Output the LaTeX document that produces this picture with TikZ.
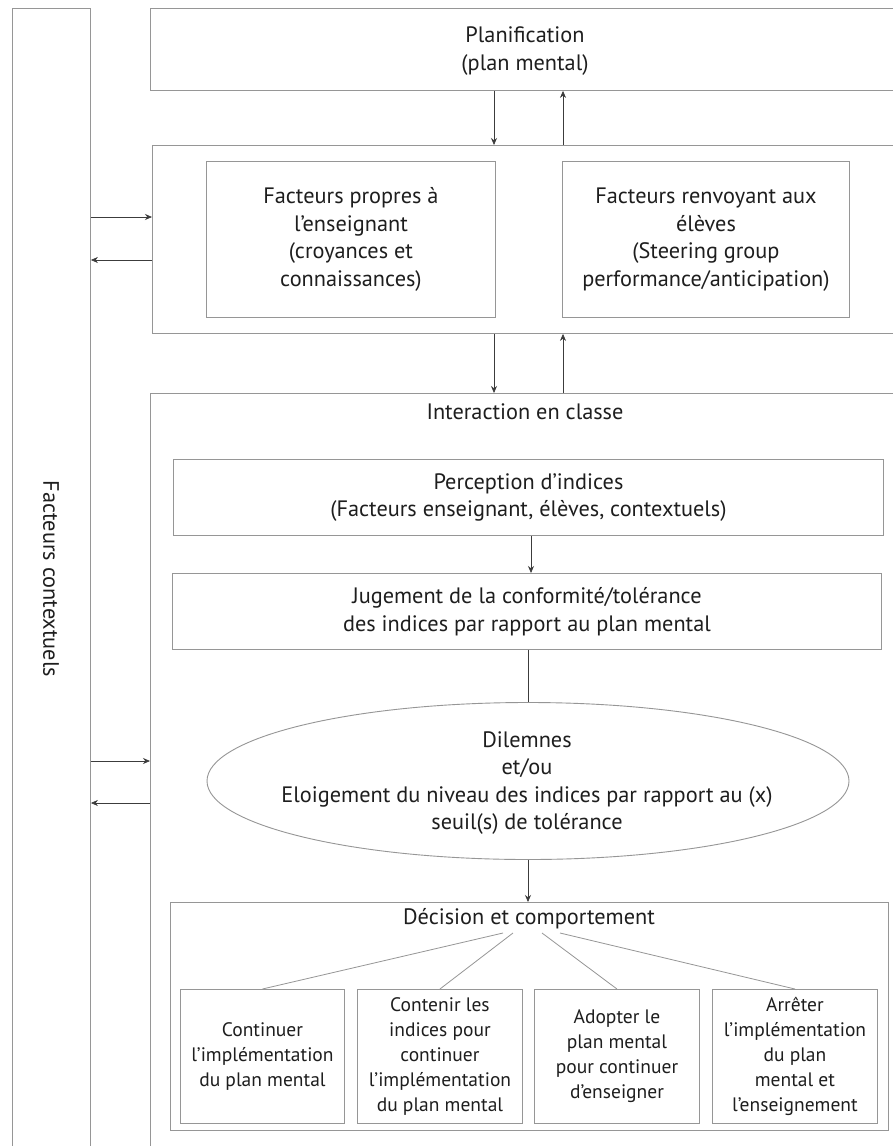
\documentclass[tikz,border=0pt]{standalone}
\usepackage{fontspec}
\setmainfont{PT Sans}
\usetikzlibrary{arrows.meta,shapes.geometric}
\definecolor{boxgray}{RGB}{150,150,150}
\definecolor{txt}{RGB}{30,30,30}
\definecolor{arr}{RGB}{60,60,60}
\begin{document}
\begin{tikzpicture}[x=1pt,y=-1pt,
  box/.style={draw=boxgray, line width=0.9pt, inner sep=0pt, anchor=north west, text=txt, align=center, font=\fontsize{22.3}{27.5}\selectfont},
  sbox/.style={box, font=\fontsize{19.5}{25}\selectfont},
  lbl/.style={text=txt, align=center, inner sep=0pt, font=\fontsize{22.3}{27.5}\selectfont},
  ar/.style={draw=arr, line width=0.7pt, -{Stealth[length=7pt,width=6pt]}},
  ln/.style={draw=boxgray, line width=0.8pt}]
\useasboundingbox (0,0) rectangle (893,1146);
\fill[white] (0,0) rectangle (893,1146);
\clip (0,0) rectangle (893,1146);
% left column
\node[box, minimum width=78pt, minimum height=1152pt] (ctx) at (12,8) {};
\node[lbl, rotate=-90] (ctxl) at (51,579) {Facteurs contextuels};
% planification
\node[box, minimum width=755pt, minimum height=82pt] (plan) at (150,8) {};
\node[lbl] (planl) at (525,51) {Planification\\(plan mental)};
% factors
\node[box, minimum width=753pt, minimum height=188pt] (fac) at (152,145) {};
\node[box, minimum width=289pt, minimum height=156pt] (ens) at (206,161) {Facteurs propres à\\l’enseignant\\(croyances et\\connaissances)};
\node[box, minimum width=287pt, minimum height=156pt] (elv) at (562,161) {Facteurs renvoyant aux\\élèves\\(Steering group\\performance/anticipation)};
% interaction
\node[box, minimum width=755pt, minimum height=767pt] (inter) at (150,393) {};
\node[lbl] (interl) at (525,412) {Interaction en classe};
\node[box, minimum width=710pt, minimum height=76pt] (perc) at (173,459) {Perception d’indices\\(Facteurs enseignant, élèves, contextuels)};
\node[box, minimum width=709pt, minimum height=76pt] (jug) at (172,573) {Jugement de la conformité/tolérance\\des indices par rapport au plan mental};
\node[draw=boxgray, line width=0.9pt, ellipse, minimum width=642pt, minimum height=157pt, inner sep=0pt] (dil) at (528,781) {};
\node[lbl] (dill) at (527,783) {Dilemnes\\et/ou\\Eloigement du niveau des indices par rapport au (x)\\seuil(s) de tolérance};
% decision
\node[box, minimum width=718pt, minimum height=228pt] (dec) at (170,902) {};
\node[lbl] (decl) at (529,919) {Décision et comportement};
\node[sbox, minimum width=164pt, minimum height=134pt] (A) at (180,989) {Continuer\\l’implémentation\\du plan mental};
\node[sbox, minimum width=165pt, minimum height=134pt] (B) at (357,989) {Contenir les\\indices pour\\continuer\\l’implémentation\\du plan mental};
\node[sbox, minimum width=165pt, minimum height=134pt] (C) at (534,989) {Adopter le\\plan mental\\pour continuer\\d’enseigner};
\node[sbox, minimum width=165pt, minimum height=134pt] (D) at (712,989) {Arrêter\\l’implémentation\\du plan\\mental et\\l’enseignement};
% connectors
\draw[ar] (494,0 |- plan.south) -- (494,0 |- fac.north);
\draw[ar] (563,0 |- fac.north) -- (563,0 |- plan.south);
\draw[ar] (494,0 |- fac.south) -- (494,0 |- inter.north);
\draw[ar] (563,0 |- inter.north) -- (563,0 |- fac.south);
\draw[ar] (ctx.east |- 0,217) -- (fac.west |- 0,217);
\draw[ar] (fac.west |- 0,260) -- (ctx.east |- 0,260);
\draw[ar] (ctx.east |- 0,761) -- (inter.west |- 0,761);
\draw[ar] (inter.west |- 0,803) -- (ctx.east |- 0,803);
\draw[ar] (531,0 |- perc.south) -- (531,0 |- jug.north);
\draw[draw=arr, line width=0.7pt] (528,0 |- jug.south) -- (dil.north);
\draw[ar] (dil.south) -- (528,0 |- dec.north);
\coordinate (d1) at (503,933);
\coordinate (d2) at (513,933);
\coordinate (d3) at (542,933);
\coordinate (d4) at (560,933);
\draw[ln] (d1) -- (A.north);
\draw[ln] (d2) -- (B.north);
\draw[ln] (d3) -- (C.north);
\draw[ln] (d4) -- (D.north);
\end{tikzpicture}
\end{document}
